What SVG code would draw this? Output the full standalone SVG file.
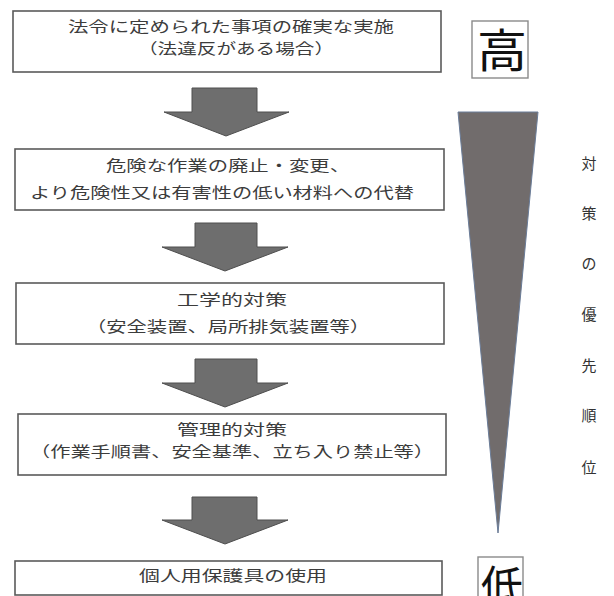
<svg xmlns="http://www.w3.org/2000/svg" width="614" height="596" viewBox="0 0 614 596">
<style>
.box{fill:#fff;stroke:#5a5a5a;stroke-width:1.6}
.t{font-family:"Noto Sans CJK JP","Noto Sans CJK SC",sans-serif;font-size:15px;fill:#3c3c3c;text-anchor:middle}
.arrow{fill:#6e6e6e;stroke:#4e4e4e;stroke-width:1}
.lvl{fill:#fff;stroke:#8a8a8a;stroke-width:1.4}
.big{font-family:"Noto Sans CJK JP","Noto Sans CJK SC",sans-serif;font-size:46px;fill:#111;text-anchor:middle}
.v{font-family:"Noto Sans CJK JP","Noto Sans CJK SC",sans-serif;font-size:15px;fill:#333;text-anchor:middle}
</style>
<rect width="614" height="596" fill="#fff"/>
<g id="connectors">
<polygon class="arrow" points="192,88 257,88 257,112 289,112 226,136 164,112 192,112"/>
<polygon class="arrow" points="195,223 257,223 257,247 288,247 225,271 162,247 195,247"/>
<polygon class="arrow" points="195,359 257,359 257,383 288,383 225,407 162,383 195,383"/>
<polygon class="arrow" points="192,497 257,497 257,520 288,520 225,544 162,520 192,520"/>
</g>
<g id="node1">
<rect class="box" x="13" y="11" width="428" height="61"/>
<text class="t" x="231" y="32" textLength="326" lengthAdjust="spacingAndGlyphs">法令に定められた事項の確実な実施</text>
<text class="t" x="236" y="54" textLength="196" lengthAdjust="spacingAndGlyphs">（法違反がある場合）</text>
</g>
<g id="node2">
<rect class="box" x="15" y="149" width="429" height="61"/>
<text class="t" x="228" y="171" textLength="244" lengthAdjust="spacingAndGlyphs">危険な作業の廃止・変更、</text>
<text class="t" x="222" y="198" textLength="384" lengthAdjust="spacingAndGlyphs">より危険性又は有害性の低い材料への代替</text>
</g>
<g id="node3">
<rect class="box" x="16" y="283" width="428" height="61"/>
<text class="t" x="232" y="305" textLength="110" lengthAdjust="spacingAndGlyphs">工学的対策</text>
<text class="t" x="228" y="332" textLength="284" lengthAdjust="spacingAndGlyphs">（安全装置、局所排気装置等）</text>
</g>
<g id="node4">
<rect class="box" x="18" y="414" width="428" height="61"/>
<text class="t" x="232" y="435" textLength="110" lengthAdjust="spacingAndGlyphs">管理的対策</text>
<text class="t" x="232" y="457" textLength="404" lengthAdjust="spacingAndGlyphs">（作業手順書、安全基準、立ち入り禁止等）</text>
</g>
<g id="node5">
<rect class="box" x="15" y="561" width="427" height="34"/>
<text class="t" x="233" y="581" textLength="188" lengthAdjust="spacingAndGlyphs">個人用保護具の使用</text>
</g>
<g id="high">
<rect class="lvl" x="472" y="21" width="56" height="57"/>
<text class="big" x="502" y="67" textLength="50" lengthAdjust="spacingAndGlyphs">高</text>
</g>
<g id="priority">
<polygon points="458,112 538,112 498,533" fill="#716c6c" stroke="#6a7c98" stroke-width="1"/>
<text class="v" x="589" y="169">対</text>
<text class="v" x="589" y="219">策</text>
<text class="v" x="589" y="269">の</text>
<text class="v" x="589" y="320">優</text>
<text class="v" x="589" y="371">先</text>
<text class="v" x="589" y="421">順</text>
<text class="v" x="589" y="473">位</text>
</g>
<g id="low">
<rect class="lvl" x="478" y="557" width="45" height="50"/>
<text class="big" x="502" y="604" textLength="42" lengthAdjust="spacingAndGlyphs">低</text>
</g>
</svg>
